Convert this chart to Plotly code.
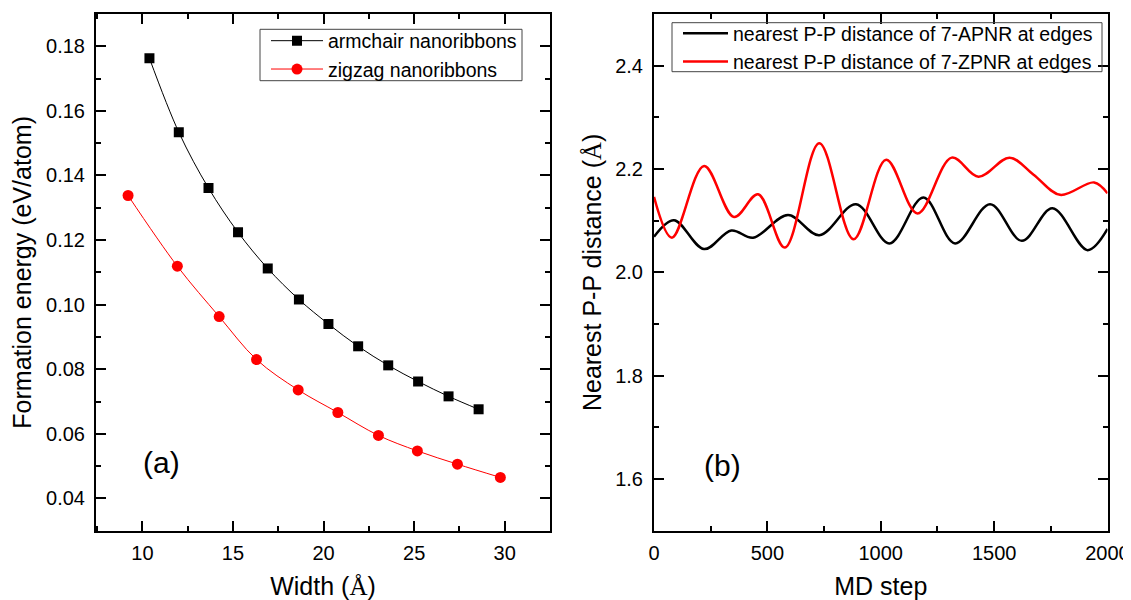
import plotly.graph_objects as go

# ---- Panel (a) data ----
armchair_width = [10.39, 12.01, 13.65, 15.28, 16.92, 18.64, 20.27, 21.91, 23.57, 25.22, 26.90, 28.56]
armchair_energy = [0.1763, 0.1534, 0.1361, 0.1224, 0.1112, 0.1016, 0.0940, 0.0871, 0.0812, 0.0762, 0.0716, 0.0676]
zigzag_width = [9.21, 11.93, 14.24, 16.30, 18.60, 20.79, 23.03, 25.18, 27.39, 29.76]
zigzag_energy = [0.1338, 0.1119, 0.0963, 0.0830, 0.0736, 0.0666, 0.0595, 0.0547, 0.0506, 0.0465]

# ---- Panel (b) data ----
apnr_step = [0, 88, 221, 341, 437, 591, 729, 891, 1038, 1188, 1328, 1482, 1622, 1757, 1912, 2000]
apnr_dist = [2.069, 2.101, 2.045, 2.081, 2.067, 2.111, 2.072, 2.132, 2.056, 2.145, 2.056, 2.132, 2.061, 2.124, 2.043, 2.084]
zpnr_step = [0, 79, 221, 353, 459, 577, 729, 880, 1024, 1162, 1313, 1431, 1568, 1674, 1791, 1941, 2000]
zpnr_dist = [2.146, 2.067, 2.206, 2.107, 2.151, 2.048, 2.250, 2.064, 2.218, 2.114, 2.222, 2.185, 2.222, 2.189, 2.150, 2.174, 2.153]

FONT = "Liberation Sans, Arial, sans-serif"
OFF = 8                      # page body margin
W, H = 1131 - OFF, 600 - OFF  # figure size so it fills the window


def fx(p):  # screen pixel -> paper x
    return (p - OFF) / W


def fy(p):  # screen pixel -> paper y
    return 1 - (p - OFF) / H


fig = go.Figure()

fig.add_trace(go.Scatter(
    x=armchair_width, y=armchair_energy, mode="lines+markers",
    name="armchair nanoribbons", line=dict(color="black", width=1, shape="spline"),
    marker=dict(symbol="square", size=10, color="black"),
    xaxis="x", yaxis="y", legend="legend"))
fig.add_trace(go.Scatter(
    x=zigzag_width, y=zigzag_energy, mode="lines+markers",
    name="zigzag nanoribbons", line=dict(color="red", width=1, shape="spline"),
    marker=dict(symbol="circle", size=11, color="red"),
    xaxis="x", yaxis="y", legend="legend"))

fig.add_trace(go.Scatter(
    x=apnr_step, y=apnr_dist, mode="lines",
    name="nearest P-P distance of 7-APNR at edges",
    line=dict(color="black", width=2.5, shape="spline"),
    xaxis="x2", yaxis="y2", legend="legend2"))
fig.add_trace(go.Scatter(
    x=zpnr_step, y=zpnr_dist, mode="lines",
    name="nearest P-P distance of 7-ZPNR at edges",
    line=dict(color="red", width=2.5, shape="spline"),
    xaxis="x2", yaxis="y2", legend="legend2"))


def ax(domain, rng, dtick, minor_dtick, fmt, title, standoff, anchor, lblstand):
    return dict(
        domain=domain, range=rng, dtick=dtick, tick0=0, tickformat=fmt,
        showgrid=False, zeroline=False, showline=True, linewidth=2, linecolor="black",
        mirror="ticks", ticks="inside", ticklen=10, tickwidth=1.5, tickcolor="black",
        minor=dict(ticks="inside", ticklen=5, tickwidth=1.5, tickcolor="black",
                   dtick=minor_dtick, showgrid=False),
        tickfont=dict(family=FONT, size=20, color="black"),
        ticklabelstandoff=lblstand,
        title=dict(text=title, font=dict(family=FONT, size=25, color="black"), standoff=standoff),
        automargin=False, anchor=anchor,
    )


dxa = [fx(96), fx(550)]
dxb = [fx(654), fx(1107.5)]
dy = [fy(530.7), fy(14)]

ANG = "<span style='font-family:Liberation Serif'>Å</span>"

fig.update_layout(
    width=W, height=H,
    margin=dict(l=0, r=0, t=0, b=0),
    paper_bgcolor="white", plot_bgcolor="white",
    font=dict(family=FONT, color="black"),
    xaxis=ax(dxa, [7.44, 32.5], 5, 2.5, "d", "Width (" + ANG + ")", 18, "y", 3),
    yaxis=ax(dy, [0.03, 0.19], 0.02, 0.01, ".2f", "Formation energy (eV/atom)", 15, "x", 5),
    xaxis2=ax(dxb, [0, 2000], 500, 250, "d", "MD step", 18, "y2", 3),
    yaxis2=ax(dy, [1.5, 2.5], 0.2, 0.1, ".1f", "Nearest P-P distance (" + ANG + ")", 6, "x2", 5),
    legend=dict(x=fx(266), y=fy(21.5), xanchor="left", yanchor="top",
                borderwidth=0, bgcolor="rgba(0,0,0,0)",
                font=dict(family=FONT, size=19.5, color="black"), itemwidth=52,
                tracegroupgap=0),
    legend2=dict(x=fx(678), y=fy(14), xanchor="left", yanchor="top",
                 borderwidth=0, bgcolor="rgba(0,0,0,0)",
                 font=dict(family=FONT, size=19.5, color="black"), itemwidth=45,
                 tracegroupgap=0),
    showlegend=True,
    shapes=[
        dict(type="rect", xref="paper", yref="paper", x0=fx(260), x1=fx(522),
             y0=fy(80.7), y1=fy(29.3), line=dict(color="#444", width=1)),
        dict(type="rect", xref="paper", yref="paper", x0=fx(672), x1=fx(1102),
             y0=fy(71.7), y1=fy(22.7), line=dict(color="#444", width=1)),
    ],
    annotations=[
        dict(text="(a)", x=11.08, y=0.0511, xref="x", yref="y", showarrow=False,
             font=dict(family=FONT, size=30, color="black")),
        dict(text="(b)", x=302, y=1.627, xref="x2", yref="y2", showarrow=False,
             font=dict(family=FONT, size=30, color="black")),
    ],
)

fig.write_html("out.html")
